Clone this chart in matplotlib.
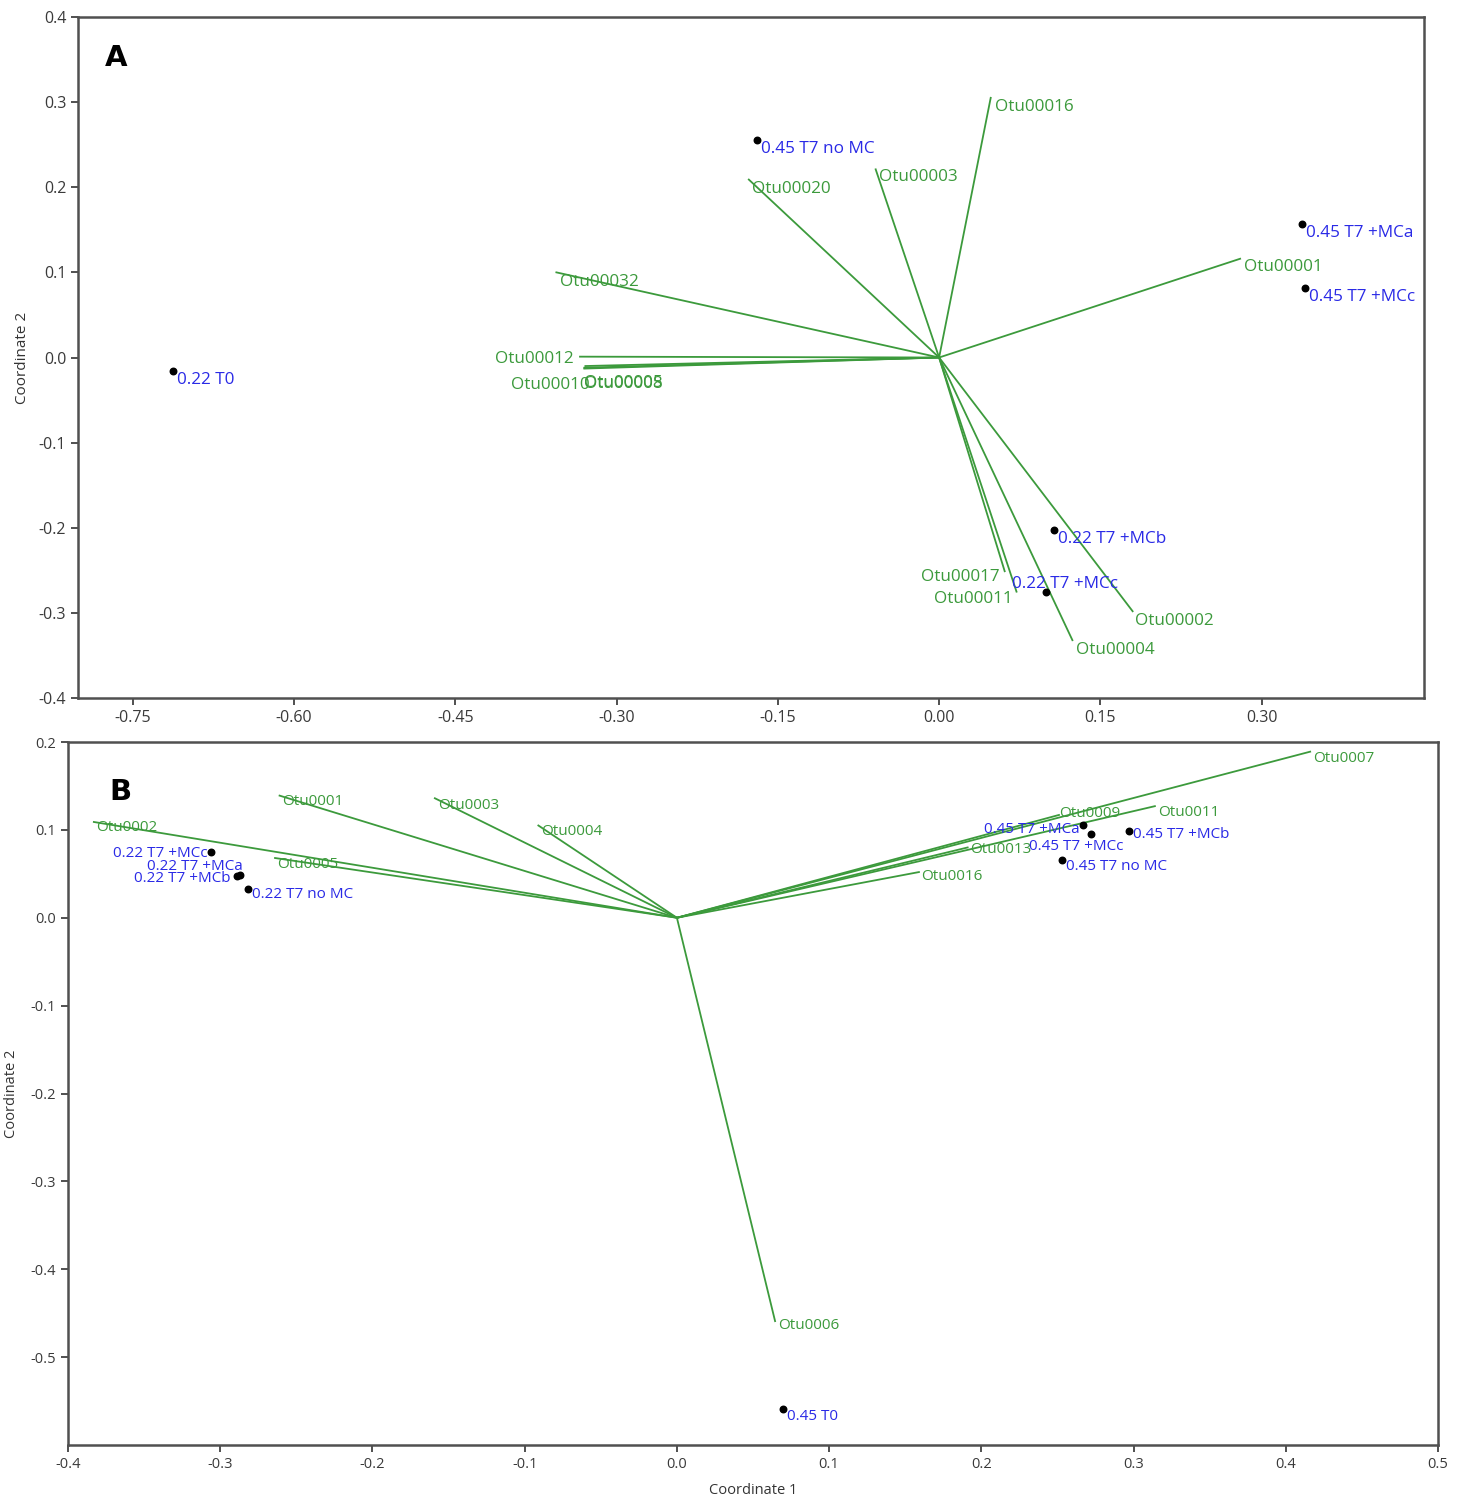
import matplotlib.pyplot as plt
import numpy as np

plt.rcParams['font.family'] = ['Open Sans', 'DejaVu Sans']

GREEN = '#3c9a3c'
BLUE = '#2a2ae6'
GREY = '#505050'

# ---- panel A : 0.22 / 0.45 filters, loadings and samples ----
a_otu = ['Otu00016', 'Otu00003', 'Otu00020', 'Otu00001', 'Otu00032', 'Otu00012',
         'Otu00010', 'Otu00005', 'Otu00008', 'Otu00017', 'Otu00011', 'Otu00004', 'Otu00002']
a_otu_x = [0.048, -0.059, -0.177, 0.280, -0.356, -0.334,
           -0.329, -0.330, -0.330, 0.061, 0.072, 0.124, 0.180]
a_otu_y = [0.305, 0.221, 0.209, 0.116, 0.100, 0.001,
           -0.010, -0.012, -0.013, -0.251, -0.275, -0.332, -0.298]

a_smp = ['0.22 T0', '0.45 T7 no MC', '0.45 T7 +MCa', '0.45 T7 +MCc', '0.22 T7 +MCb', '0.22 T7 +MCc']
a_smp_x = [-0.713, -0.169, 0.338, 0.340, 0.107, 0.0995]
a_smp_y = [-0.016, 0.256, 0.157, 0.082, -0.203, -0.275]

# ---- panel B ----
b_otu = ['Otu0002', 'Otu0001', 'Otu0003', 'Otu0004', 'Otu0005', 'Otu0006',
         'Otu0007', 'Otu0009', 'Otu0011', 'Otu0013', 'Otu0016']
b_otu_x = [-0.383, -0.261, -0.159, -0.091, -0.264, 0.0645, 0.416, 0.251, 0.314, 0.191, 0.159]
b_otu_y = [0.109, 0.139, 0.136, 0.105, 0.068, -0.459, 0.189, 0.117, 0.127, 0.080, 0.052]

b_smp = ['0.22 T7 +MCc', '0.22 T7 +MCa', '0.22 T7 +MCb', '0.22 T7 no MC',
         '0.45 T7 +MCa', '0.45 T7 +MCc', '0.45 T7 +MCb', '0.45 T7 no MC', '0.45 T0']
b_smp_x = [-0.306, -0.287, -0.289, -0.282, 0.267, 0.272, 0.297, 0.253, 0.070]
b_smp_y = [0.075, 0.049, 0.047, 0.033, 0.105, 0.095, 0.099, 0.066, -0.559]

# label placement: (dx, dy) in pixels, horizontal alignment
a_otu_pos = [(4, -9, 'left'), (3, -8, 'left'), (3, -9, 'left'), (4, -8, 'left'),
             (4, -10, 'left'), (-6, -2, 'right'), (4, -19, 'right'), (0, -15, 'left'),
             (0, -15, 'left'), (-5, -6, 'right'), (-4, -7, 'right'), (4, -10, 'left'),
             (2, -10, 'left')]
a_smp_pos = [(4, -9, 'left'), (4, -9, 'left'), (4, -9, 'left'), (4, -9, 'left'),
             (4, -9, 'left'), (-34, 8, 'left')]
b_otu_pos = [(2, -6, 'left'), (3, -6, 'left'), (3, -7, 'left'), (3, -6, 'left'),
             (2, -6, 'left'), (3, -4, 'left'), (3, -7, 'left'), (0, 1, 'left'),
             (3, -6, 'left'), (2, -2, 'left'), (2, -4, 'left')]
b_smp_pos = [(-3, -2, 'right'), (3, 8, 'right'), (-6, -2, 'right'), (4, -6, 'left'),
             (-4, -4, 'right'), (-62, -12, 'left'), (4, -4, 'left'), (4, -7, 'left'),
             (4, -7, 'left')]


def biplot(ax, ox, oy, onames, opos, sx, sy, snames, spos, fs):
    for x, y, name, (dx, dy, ha) in zip(ox, oy, onames, opos):
        ax.plot([0, x], [0, y], color=GREEN, lw=1.3, zorder=2)
        ax.annotate(name, (x, y), xytext=(dx, dy), textcoords='offset pixels',
                    ha=ha, va='center', color=GREEN, fontsize=fs, zorder=3)
    ax.scatter(sx, sy, s=22, color='black', zorder=4)
    for x, y, name, (dx, dy, ha) in zip(sx, sy, snames, spos):
        ax.annotate(name, (x, y), xytext=(dx, dy), textcoords='offset pixels',
                    ha=ha, va='center', color=BLUE, fontsize=fs, zorder=5)


def style(ax, tick_fs):
    for sp in ax.spines.values():
        sp.set_color(GREY)
        sp.set_linewidth(1.8)
    ax.tick_params(colors=GREY, labelcolor='#3a3a3a', labelsize=tick_fs,
                   length=5, width=1.4, direction='out')


fig = plt.figure(figsize=(14.65, 14.99), dpi=100)

axA = fig.add_axes([0.0532, 0.5343, 0.9188, 0.4544])
biplot(axA, a_otu_x, a_otu_y, a_otu, a_otu_pos, a_smp_x, a_smp_y, a_smp, a_smp_pos, 12.3)
axA.set_xlim(-0.801, 0.451)
axA.set_ylim(-0.4, 0.4)
axA.set_xticks([-0.75, -0.60, -0.45, -0.30, -0.15, 0.00, 0.15, 0.30])
axA.set_xticklabels(['-0.75', '-0.60', '-0.45', '-0.30', '-0.15', '0.00', '0.15', '0.30'])
axA.set_yticks(np.arange(-0.4, 0.41, 0.1))
axA.set_yticklabels(['-0.4', '-0.3', '-0.2', '-0.1', '0.0', '0.1', '0.2', '0.3', '0.4'])
axA.set_ylabel('Coordinate 2', fontsize=11, color='#333333', labelpad=6)
style(axA, 11.5)
axA.text(0.020, 0.94, 'A', transform=axA.transAxes, fontsize=21, fontweight='bold',
         family='DejaVu Sans', va='center')

axB = fig.add_axes([0.0464, 0.036, 0.9352, 0.469])
biplot(axB, b_otu_x, b_otu_y, b_otu, b_otu_pos, b_smp_x, b_smp_y, b_smp, b_smp_pos, 11)
axB.set_xlim(-0.4, 0.5)
axB.set_ylim(-0.6, 0.2)
axB.set_xticks(np.arange(-0.4, 0.51, 0.1))
axB.set_xticklabels(['-0.4', '-0.3', '-0.2', '-0.1', '0.0', '0.1', '0.2', '0.3', '0.4', '0.5'])
axB.set_yticks(np.arange(-0.5, 0.21, 0.1))
axB.set_yticklabels(['-0.5', '-0.4', '-0.3', '-0.2', '-0.1', '0.0', '0.1', '0.2'])
axB.set_xlabel('Coordinate 1', fontsize=10.5, color='#333333', labelpad=8)
axB.set_ylabel('Coordinate 2', fontsize=10.5, color='#333333', labelpad=8)
style(axB, 10.5)
axB.text(0.030, 0.929, 'B', transform=axB.transAxes, fontsize=21, fontweight='bold',
         family='DejaVu Sans', va='center')

fig.savefig('out.png', dpi=100, facecolor='white')
